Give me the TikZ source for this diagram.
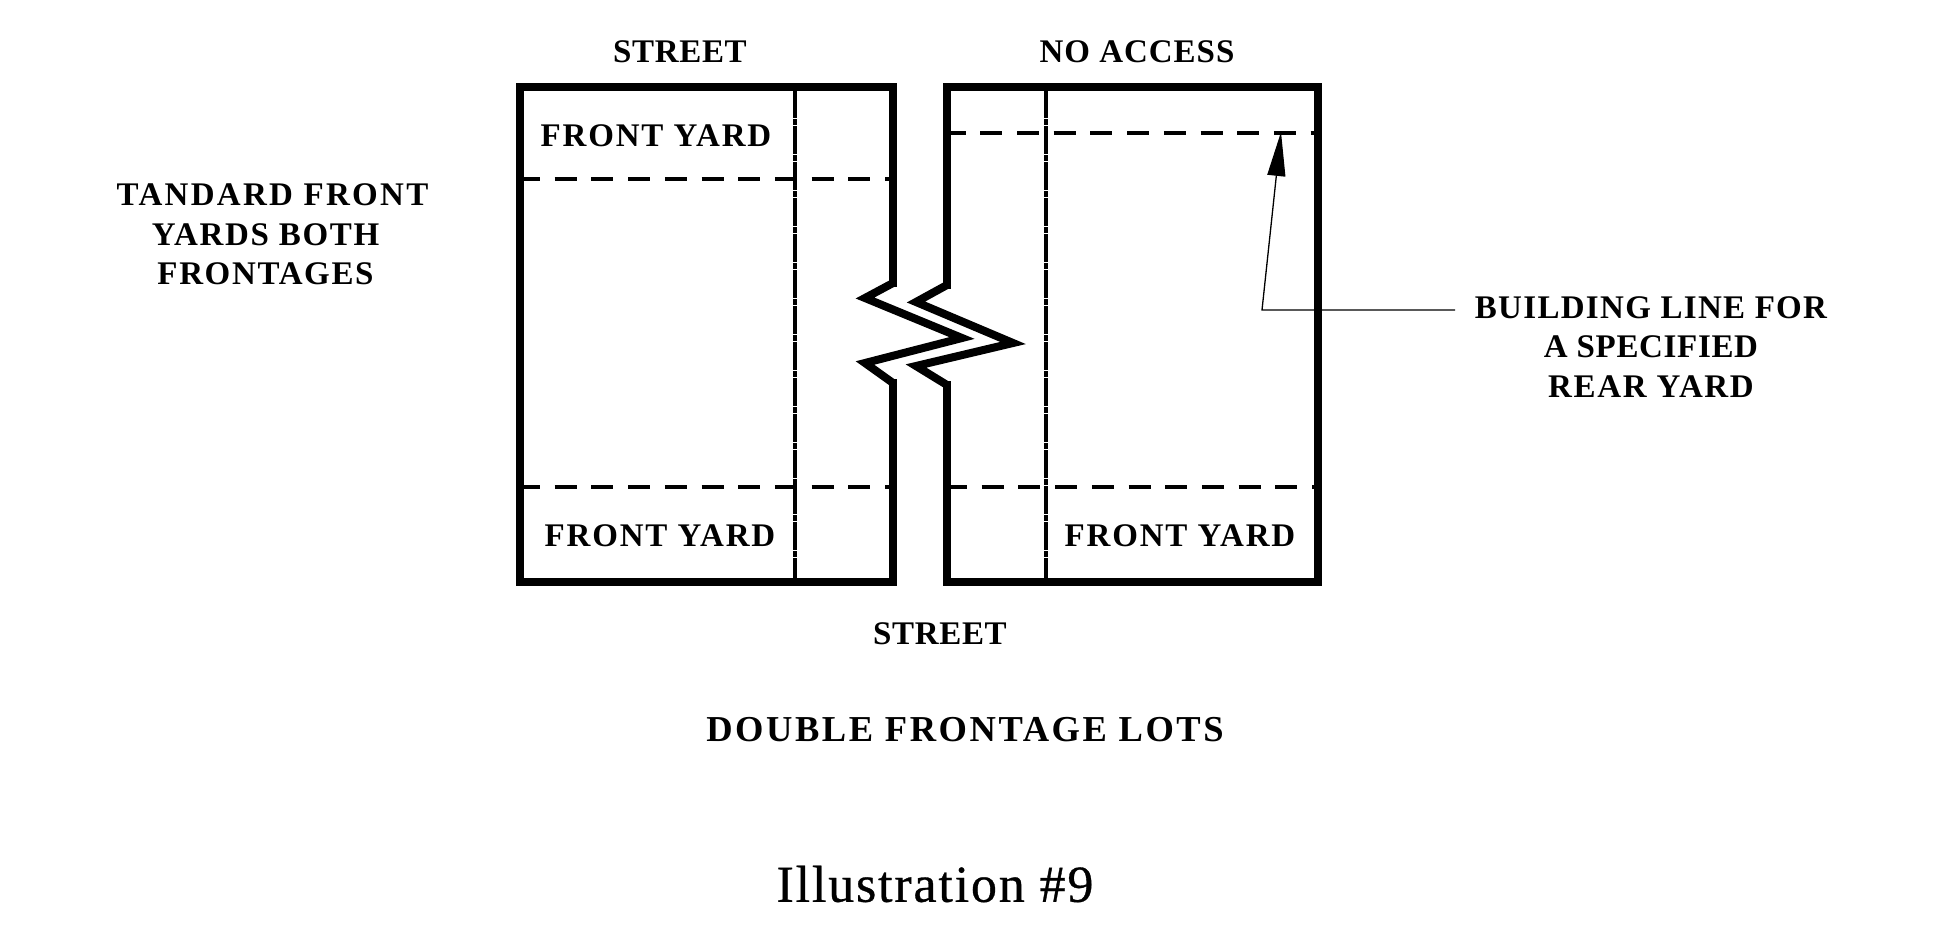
\documentclass[tikz,border=0pt]{standalone}
\usepackage{fontspec}
\setmainfont{Liberation Serif}
\newfontfamily\lblfont{Liberation Serif Bold}
\newfontfamily\titlefont[FakeBold=0.6,LetterSpace=3.5]{Liberation Serif}
\newcommand{\ls}[2]{{\addfontfeature{LetterSpace=#1}#2}}
\usetikzlibrary{arrows.meta}
\tikzset{
  x=1pt,y=-1pt,
  lot/.style={line width=8.5pt,line join=miter,miter limit=10,black},
  zig/.style={line width=8pt,line join=miter,miter limit=10,black},
  setback/.style={line width=4.8pt,dash pattern=on 22pt off 14.7pt},
  lotline/.style={line width=4.4pt,dash pattern=on 28pt off 1pt on 6pt off 1pt},
  lotlinethin/.style={line width=3.2pt,dash pattern=on 28pt off 1pt on 6pt off 1pt},
  leader/.style={line width=1.3pt,-{Triangle[length=44pt,width=18pt]}},
  lbl/.style={inner sep=0pt,align=center,font=\lblfont\fontsize{33}{39.5}\selectfont},
  biglbl/.style={inner sep=0pt,font=\lblfont\fontsize{36.5}{42}\selectfont},
  titlelbl/.style={inner sep=0pt,font=\titlefont\fontsize{52}{60}\selectfont},
}
\begin{document}
\begin{tikzpicture}
\useasboundingbox (0,0) rectangle (1946,940);
% left lot
\draw[lot] (893,287) -- (893,87) -- (520,87) -- (520,582) -- (893,582) -- (893,379);
\draw[zig] (893,283) -- (865,298) -- (962,338) -- (865,363) -- (893,383);
% right lot
\draw[lot] (947,289) -- (947,87) -- (1318,87) -- (1318,582) -- (947,582) -- (947,381);
\draw[zig] (947,285) -- (916,302) -- (1013,343) -- (916,366) -- (947,385);
% set-back lines
\draw[setback] (518,179) -- (890,179);
\draw[setback] (518,487) -- (890,487);
\draw[setback,dash phase=3.4pt] (947,133) -- (1315,133);
\draw[setback] (945,487) -- (1315,487);
% lot lines
\draw[lotline] (795,90) -- (795,580);
\draw[lotlinethin] (1046,90) -- (1046,580);
% labels
\node[lbl] (streettop) at (680,52) {\ls{2}{STREET}};
\node[lbl] (noaccess) at (1137,52) {\ls{3}{NO ACCESS}};
\node[lbl] (fytl) at (656,136) {\ls{5.5}{FRONT YARD}};
\node[lbl] (fybl) at (660,536) {\ls{5.5}{FRONT YARD}};
\node[lbl] (fybr) at (1180,536) {\ls{5.5}{FRONT YARD}};
\node[lbl] (streetbot) at (940,634) {\ls{2}{STREET}};
\node[lbl] (standard) at (265.5,234.5) {\hspace*{14pt}\ls{7}{TANDARD FRONT}\\\ls{5}{YARDS BOTH}\\\ls{5}{FRONTAGES}};
\node[lbl] (building) at (1651,347) {\ls{4}{BUILDING LINE FOR}\\\ls{2}{A SPECIFIED}\\\ls{5}{REAR YARD}};
\node[biglbl] (dbl) at (965,730) {\ls{7}{DOUBLE FRONTAGE LOTS}};
\node[titlelbl] (illus) at (935,884) {Illustration \#9};
% leader
\coordinate (lstart) at (1455,310);
\coordinate (lbend) at (1262,310);
\coordinate (ltip) at (1281,132);
\draw[leader] (lstart) -- (lbend) -- (ltip);
\end{tikzpicture}
\end{document}
